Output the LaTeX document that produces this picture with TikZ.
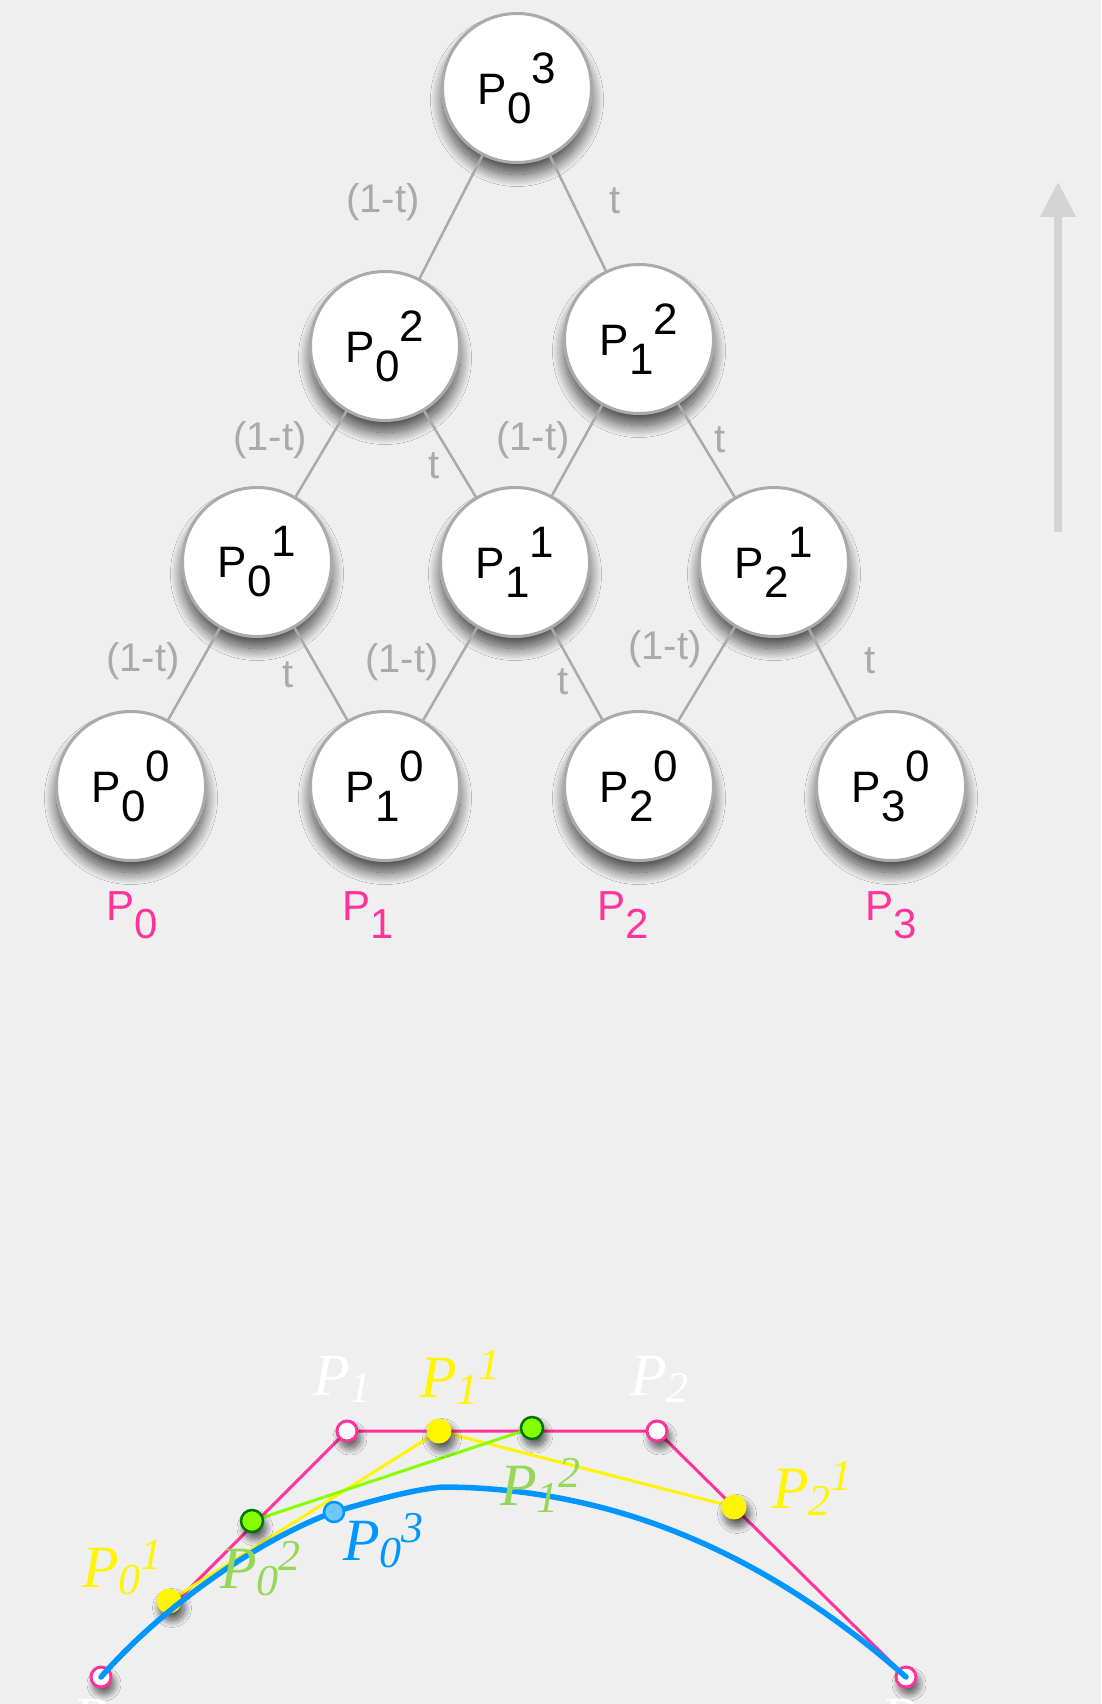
\documentclass[tikz,border=0pt]{standalone}
\usepackage{fontspec}
\newfontfamily\hel{Liberation Sans}
\newfontfamily\tms{Liberation Serif}
\usetikzlibrary{arrows.meta,shadows.blur}
\definecolor{bgc}{RGB}{239,239,239}
\definecolor{edgegray}{RGB}{170,170,170}
\definecolor{pinkc}{RGB}{255,51,153}
\definecolor{yelc}{RGB}{255,245,0}
\definecolor{limec}{RGB}{136,255,0}
\definecolor{dgreen}{RGB}{0,119,0}
\definecolor{lgreen}{RGB}{150,215,90}
\definecolor{bluec}{RGB}{0,150,255}
\definecolor{lblue}{RGB}{110,200,255}
\definecolor{arrowgray}{RGB}{212,212,212}
\newcommand\PQ[2]{P\raisebox{-19pt}{#1}\raisebox{21pt}{#2}}
\newcommand\PI[2]{P\raisebox{-7pt}{\fontsize{44}{44}\selectfont #1}\raisebox{18pt}{\fontsize{44}{44}\selectfont #2}}
\newcommand\PS[1]{P\raisebox{-7pt}{\fontsize{44}{44}\selectfont #1}}
\begin{document}
\begin{tikzpicture}[x=1pt,y=-1pt,
  tnode/.style={circle, draw=edgegray, line width=3pt, fill=white, minimum size=149pt, inner sep=0pt,
    font=\hel\fontsize{44}{50}\selectfont,
    blur shadow={shadow xshift=0pt, shadow yshift=-12pt, shadow blur radius=12pt, shadow blur steps=24, shadow opacity=70}},
  tedge/.style={draw=edgegray, line width=2.5pt},
  elab/.style={text=edgegray, font=\hel\fontsize{40}{44}\selectfont, inner sep=0pt},
  plab/.style={text=pinkc, font=\hel\fontsize{42}{46}\selectfont, inner sep=0pt, anchor=base},
  ptshadow/.style={blur shadow={shadow xshift=3pt, shadow yshift=-7pt, shadow blur radius=7pt, shadow blur steps=16, shadow opacity=65}},
  cpt/.style={circle, draw=pinkc, line width=3pt, fill=white, minimum size=20pt, inner sep=0pt, ptshadow},
  ypt/.style={circle, fill=yelc, minimum size=25pt, inner sep=0pt, ptshadow},
  gpt/.style={circle, draw=dgreen, line width=2.5pt, fill=limec, minimum size=22pt, inner sep=0pt, ptshadow},
  bpt/.style={circle, draw=bluec, line width=2.5pt, fill=lblue, minimum size=20pt, inner sep=0pt},
  ilab/.style={font=\tms\itshape\fontsize{60}{60}\selectfont, inner sep=0pt, anchor=base west},
]
\useasboundingbox (0,0) rectangle (1101,1704);
\fill[bgc] (0,0) rectangle (1101,1704);

% tree nodes
\node[tnode] (P03) at (517,88) {\PQ{0}{3}};
\node[tnode] (P02) at (385,346) {\PQ{0}{2}};
\node[tnode] (P12) at (639,339) {\PQ{1}{2}};
\node[tnode] (P01) at (257,562) {\PQ{0}{1}};
\node[tnode] (P11) at (515,562) {\PQ{1}{1}};
\node[tnode] (P21) at (774,562) {\PQ{2}{1}};
\node[tnode] (P00) at (131,786) {\PQ{0}{0}};
\node[tnode] (P10) at (385,786) {\PQ{1}{0}};
\node[tnode] (P20) at (639,786) {\PQ{2}{0}};
\node[tnode] (P30) at (891,786) {\PQ{3}{0}};

% tree edges
\draw[tedge] (P03) -- (P02);
\draw[tedge] (P03) -- (P12);
\draw[tedge] (P02) -- (P01);
\draw[tedge] (P02) -- (P11);
\draw[tedge] (P12) -- (P11);
\draw[tedge] (P12) -- (P21);
\draw[tedge] (P01) -- (P00);
\draw[tedge] (P01) -- (P10);
\draw[tedge] (P11) -- (P10);
\draw[tedge] (P11) -- (P20);
\draw[tedge] (P21) -- (P20);
\draw[tedge] (P21) -- (P30);

% edge labels
\node[elab] (l1) at (383,202) {(1-t)};
\node[elab] (l2) at (615,201) {t};
\node[elab] (l3) at (270,440) {(1-t)};
\node[elab] (l4) at (434,466) {t};
\node[elab] (l5) at (533,440) {(1-t)};
\node[elab] (l6) at (720,440) {t};
\node[elab] (l7) at (143,661) {(1-t)};
\node[elab] (l8) at (288,675) {t};
\node[elab] (l9) at (402,662) {(1-t)};
\node[elab] (l10) at (563,682) {t};
\node[elab] (l11) at (665,649) {(1-t)};
\node[elab] (l12) at (870,661) {t};

% pink labels
\node[plab] (q0) at (132,920) {P\raisebox{-18pt}{0}};
\node[plab] (q1) at (368,920) {P\raisebox{-18pt}{1}};
\node[plab] (q2) at (623,920) {P\raisebox{-18pt}{2}};
\node[plab] (q3) at (891,920) {P\raisebox{-18pt}{3}};

% up arrow
\coordinate (arrB) at (1058,532);
\coordinate (arrT) at (1058,182);
\draw[arrowgray, line width=8pt, -{Triangle[length=35pt, width=34pt]}] (arrB) -- (arrT);

% bottom construction
\coordinate (c0) at (101,1677);
\coordinate (c1) at (347,1431);
\coordinate (c2) at (657,1431);
\coordinate (c3) at (906,1677);
\coordinate (y01) at (169,1601);
\coordinate (y11) at (439,1431);
\coordinate (y21) at (734,1507);
\coordinate (g02) at (252,1521);
\coordinate (g12) at (532,1428);
\coordinate (b03) at (334,1512);
\coordinate (bpk) at (443,1487);

\draw[pinkc, line width=3pt] (c0) -- (c1) -- (c2) -- (c3);
\draw[yelc, line width=3pt] (y01) -- (y11) -- (y21);
\draw[limec, line width=3pt] (g02) -- (g12);

\node[cpt] (n0) at (c0) {};
\node[cpt] (n1) at (c1) {};
\node[cpt] (n2) at (c2) {};
\node[cpt] (n3) at (c3) {};
\node[ypt] (ny01) at (y01) {};
\node[ypt] (ny11) at (y11) {};
\node[ypt] (ny21) at (y21) {};
\node[gpt] (ng02) at (g02) {};
\node[gpt] (ng12) at (g12) {};

\draw[bluec, line width=5.5pt, line cap=round]
  (c0) .. controls (170,1598) and (270,1535) .. (b03)
  .. controls (375,1500) and (415,1489) .. (bpk)
  .. controls (640,1488) and (790,1575) .. (c3);
\node[bpt] (nb03) at (b03) {};

% italic labels (white ones are faint on the paper, as in the reference)
\node[ilab, text=white] (w1) at (313,1395) {\PS{1}};
\node[ilab, text=white] (w2) at (630,1395) {\PS{2}};
\node[ilab, text=white] (w0) at (72,1738) {\PS{0}};
\node[ilab, text=white] (w3) at (880,1738) {\PS{3}};
\node[ilab, text=yelc] (ty01) at (82,1587) {\PI{0}{1}};
\node[ilab, text=yelc] (ty11) at (420,1397) {\PI{1}{1}};
\node[ilab, text=yelc] (ty21) at (772,1508) {\PI{2}{1}};
\node[ilab, text=lgreen] (tg02) at (220,1588) {\PI{0}{2}};
\node[ilab, text=lgreen] (tg12) at (500,1505) {\PI{1}{2}};
\node[ilab, text=bluec] (tb03) at (343,1560) {\PI{0}{3}};
\end{tikzpicture}
\end{document}
